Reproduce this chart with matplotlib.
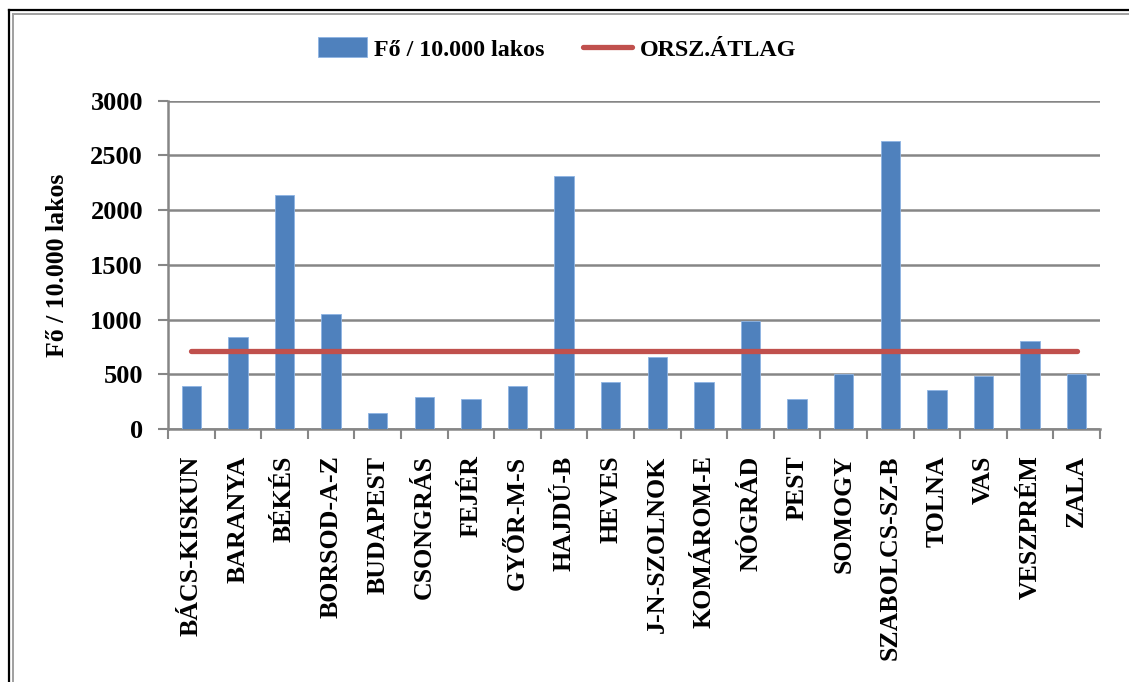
import matplotlib
matplotlib.use("Agg")
import matplotlib.pyplot as plt
from matplotlib.lines import Line2D
import numpy as np

categories = ["BÁCS-KISKUN", "BARANYA", "BÉKÉS", "BORSOD-A-Z", "BUDAPEST",
              "CSONGRÁS", "FEJÉR", "GYŐR-M-S", "HAJDÚ-B", "HEVES",
              "J-N-SZOLNOK", "KOMÁROM-E", "NÓGRÁD", "PEST", "SOMOGY",
              "SZABOLCS-SZ-B", "TOLNA", "VAS", "VESZPRÉM", "ZALA"]
values = [390, 840, 2135, 1050, 145, 288, 270, 390, 2310, 428,
          662, 428, 983, 270, 500, 2635, 358, 487, 802, 500]
national_avg = [710] * len(categories)
yticks = [0, 500, 1000, 1500, 2000, 2500, 3000]

series_label = "Fő / 10.000 lakos"
avg_label = "ORSZ.ÁTLAG"

plt.rcParams['font.family'] = ['Liberation Serif', 'DejaVu Serif']
plt.rcParams['font.weight'] = 'bold'

W, H = 1129, 682
fig = plt.figure(figsize=(W / 100, H / 100), dpi=100)
ax = fig.add_axes([168 / W, 1 - 429 / H, (1100 - 168) / W, (429 - 100.7) / H])

x = np.arange(len(categories))
bars = ax.bar(x, values, width=0.42, color="#4F81BD", edgecolor="#8EB4E3",
              linewidth=0.6, label=series_label, zorder=3)
line, = ax.plot(x, national_avg, color="#C0504D", linewidth=3.8,
                solid_capstyle="round", label=avg_label, zorder=4)

ax.set_xlim(-0.5, len(categories) - 0.5)
ax.set_ylim(0, 3000)
ax.set_yticks(yticks)
ax.set_yticklabels([str(t) for t in yticks], fontsize=19, fontweight="bold")
ax.set_xticks(x)
ax.set_xticklabels(categories, rotation=90, fontsize=18.6, fontweight="bold",
                   va="top", ha="center")
ax.set_xticks(np.arange(-0.5, len(categories), 1.0), minor=True)
ax.tick_params(axis="x", which="major", length=0, pad=19)
ax.tick_params(axis="x", which="minor", length=7, width=1.5, color="#868686")
ax.tick_params(axis="y", which="major", length=7, width=1.5, color="#868686", pad=11)

ax.grid(axis="y", color="#868686", linewidth=1.8, zorder=0)
ax.set_axisbelow(True)
for s in ["top", "right"]:
    ax.spines[s].set_visible(False)
for s in ["left", "bottom"]:
    ax.spines[s].set_color("#868686")
    ax.spines[s].set_linewidth(1.8)

ax.set_ylabel(series_label, fontsize=18.5, fontweight="bold", labelpad=15)

leg = fig.legend(handles=[bars, line], labels=[series_label, avg_label],
                 loc="center", bbox_to_anchor=(557 / W, 1 - 49 / H), ncol=2,
                 frameon=False, fontsize=17.3, handlelength=2.05, handleheight=0.9,
                 columnspacing=1.6, handletextpad=0.3)
for t in leg.get_texts():
    t.set_fontweight("bold")

# outer frame lines (black outer, grey inner)
fig.add_artist(Line2D([9 / W, 1.0], [1 - 10 / H, 1 - 10 / H], transform=fig.transFigure,
                      color="black", linewidth=1.6))
fig.add_artist(Line2D([9 / W, 9 / W], [1 - 10 / H, 0.0], transform=fig.transFigure,
                      color="black", linewidth=1.6))
fig.add_artist(Line2D([13 / W, 1.0], [1 - 14 / H, 1 - 14 / H], transform=fig.transFigure,
                      color="#A0A0A0", linewidth=1.4))
fig.add_artist(Line2D([13 / W, 13 / W], [1 - 14 / H, 0.0], transform=fig.transFigure,
                      color="#A0A0A0", linewidth=1.4))

fig.savefig("out.png", dpi=100)
